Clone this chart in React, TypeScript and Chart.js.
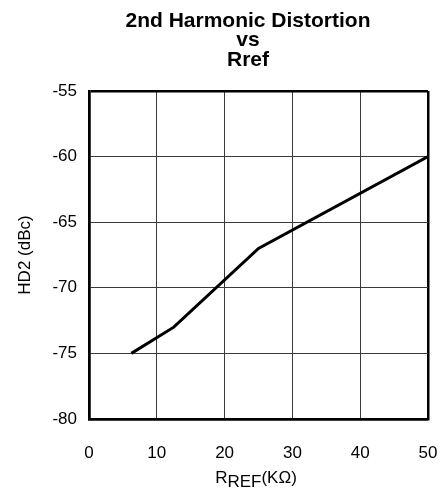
import React, { useEffect, useRef } from "react";
import { Chart, registerables } from "chart.js";

Chart.register(...registerables);

const rrefKOhm = [6.25, 12.5, 25, 50];
const hd2dBc = [-75, -73, -67, -60];
const titleLines = ["2nd Harmonic Distortion", "vs", "Rref"];
const yAxisTitle = "HD2 (dBc)";
const xTitleMain = "R";
const xTitleSub = "REF";
const xTitleTail = "(KΩ)";

const FONT = "'Liberation Sans', Arial, sans-serif";

const textPlugin = {
  id: "customText",
  afterDraw(chart: any) {
    const ctx = chart.ctx as CanvasRenderingContext2D;
    ctx.save();
    ctx.fillStyle = "#000";
    // Title
    ctx.font = `bold 21px ${FONT}`;
    ctx.textAlign = "center";
    ctx.textBaseline = "alphabetic";
    const baselines = [26.5, 46, 65.5];
    titleLines.forEach((t, i) => ctx.fillText(t, 248, baselines[i]));

    // Y axis title
    ctx.save();
    ctx.translate(25, 255);
    ctx.rotate(-Math.PI / 2);
    ctx.font = `17px ${FONT}`;
    ctx.textAlign = "center";
    ctx.textBaseline = "middle";
    ctx.fillText(yAxisTitle, 0, 0);
    ctx.restore();

    // X axis title with subscript
    ctx.font = `17px ${FONT}`;
    ctx.textAlign = "left";
    ctx.textBaseline = "alphabetic";
    const wMain = ctx.measureText(xTitleMain).width;
    const wSub = ctx.measureText(xTitleSub).width;
    const wTail = ctx.measureText(xTitleTail).width;
    const total = wMain + wSub + wTail;
    let x = 256 - total / 2;
    const base = 483;
    ctx.fillText(xTitleMain, x, base);
    x += wMain;
    ctx.fillText(xTitleSub, x, base + 4);
    x += wSub;
    ctx.fillText(xTitleTail, x, base);
    ctx.restore();
  },
};

export default function App() {
  const canvasRef = useRef<HTMLCanvasElement | null>(null);

  useEffect(() => {
    if (!canvasRef.current) return;
    const chart = new Chart(canvasRef.current, {
      type: "line",
      data: {
        datasets: [
          {
            data: rrefKOhm.map((x, i) => ({ x, y: hd2dBc[i] })),
            borderColor: "#000",
            borderWidth: 3,
            pointRadius: 0,
            tension: 0,
            fill: false,
          },
        ],
      },
      options: {
        responsive: false,
        animation: false,
        layout: { padding: { left: 0, right: 16, top: 91, bottom: 0 } },
        plugins: {
          legend: { display: false },
          title: { display: false },
          tooltip: { enabled: false },
        },
        scales: {
          x: {
            type: "linear",
            min: 0,
            max: 50,
            afterFit: (s: any) => {
              s.height = 74;
              s.paddingLeft = 0;
              s.paddingRight = 0;
            },
            ticks: {
              stepSize: 10,
              padding: 24,
              color: "#000",
              font: { family: FONT, size: 17 },
              maxRotation: 0,
            },
            grid: {
              drawTicks: false,
              tickLength: 0,
              color: (c: any) =>
                c.index === 0 || c.index === 5 ? "#000" : "#3a3a3a",
              lineWidth: (c: any) => (c.index === 0 || c.index === 5 ? 2.5 : 1),
            },
            border: { display: true, color: "#000", width: 2.5 },
          },
          y: {
            type: "linear",
            min: -80,
            max: -55,
            afterFit: (s: any) => {
              s.width = 89;
              s.paddingTop = 0;
              s.paddingBottom = 0;
            },
            ticks: {
              stepSize: 5,
              padding: 12,
              color: "#000",
              font: { family: FONT, size: 17 },
            },
            grid: {
              drawTicks: false,
              tickLength: 0,
              color: (c: any) =>
                c.index === 0 || c.index === 5 ? "#000" : "#3a3a3a",
              lineWidth: (c: any) => (c.index === 0 || c.index === 5 ? 2.5 : 1),
            },
            border: { display: true, color: "#000", width: 2.5 },
          },
        },
      },
      plugins: [textPlugin],
    });
    return () => chart.destroy();
  }, []);

  return (
    <div
      style={{
        position: "fixed",
        left: 0,
        top: 0,
        width: 444,
        height: 493,
        background: "#fff",
      }}
    >
      <canvas
        ref={canvasRef}
        width={444}
        height={493}
        style={{ width: 444, height: 493, display: "block" }}
      />
    </div>
  );
}
